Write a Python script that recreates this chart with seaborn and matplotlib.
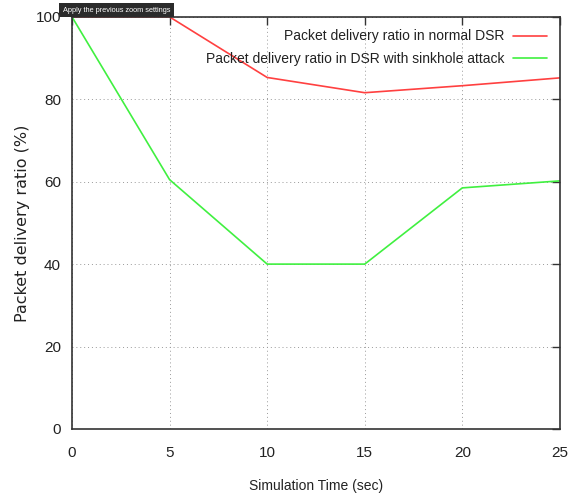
import matplotlib
matplotlib.use("Agg")
import matplotlib.pyplot as plt
import seaborn as sns
import pandas as pd

time = [0, 5, 10, 15, 20, 25]
normal_dsr = [100, 100, 85.3, 81.6, 83.3, 85.2]
sinkhole_dsr = [100, 60.5, 40, 40, 58.5, 60.2]
label_normal = "Packet delivery ratio in normal DSR"
label_sink = "Packet delivery ratio in DSR with sinkhole attack"

sns.set_theme(style="white")
narrow = ["Liberation Sans", "DejaVu Sans"]
plt.rcParams["font.family"] = narrow

df = pd.DataFrame({
    "time": time * 2,
    "pdr": normal_dsr + sinkhole_dsr,
    "series": [label_normal] * len(time) + [label_sink] * len(time),
})

fig = plt.figure(figsize=(5.76, 4.97), dpi=100)
ax = fig.add_axes([0.125, 0.137, 0.847, 0.829])
sns.lineplot(data=df, x="time", y="pdr", hue="series",
             palette={label_normal: "#ff4040", label_sink: "#40f040"},
             linewidth=1.2, ax=ax)

ax.set_xlim(0, 25)
ax.set_ylim(0, 100)
ax.set_xticks(time)
ax.set_yticks([0, 20, 40, 60, 80, 100])
ax.tick_params(direction="in", top=True, right=True, length=6, width=1,
               color="#333333", labelsize=11, labelcolor="#222222")
ax.tick_params(axis="x", pad=12)
ax.tick_params(axis="y", pad=8)
ax.grid(True, linestyle=(0, (1, 3)), color="#999999", linewidth=0.7)
for s in ax.spines.values():
    s.set_color("#333333")
    s.set_linewidth(1.2)

ax.set_xlabel("Simulation Time (sec)", fontsize=10, labelpad=14, color="#222222")
ax.set_ylabel("Packet delivery ratio (%)", fontsize=11.5, labelpad=4,
              color="#222222", family=["DejaVu Sans"])

leg = ax.legend(loc="upper right", frameon=False, markerfirst=False,
                fontsize=10, handlelength=2.5, borderaxespad=0.5,
                labelspacing=0.6, handletextpad=0.6)
for t in leg.get_texts():
    t.set_color("#222222")

fig.text(63 / 576, 1 - 10 / 497, "Apply the previous zoom settings",
         fontsize=5.3, color="white", va="center", ha="left",
         bbox=dict(boxstyle="square,pad=0.5", facecolor="#2b2b2b", edgecolor="none"))

fig.savefig("out.png", dpi=100)
